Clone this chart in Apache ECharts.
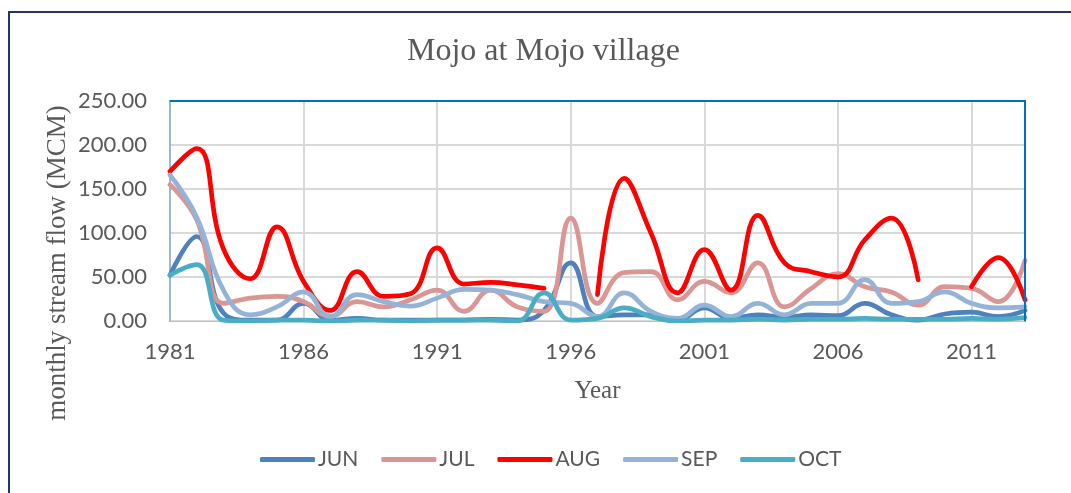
<!DOCTYPE html>
<html>
<head>
<meta charset="utf-8">
<script src="https://cdn.jsdelivr.net/npm/echarts@6/dist/echarts.min.js"></script>
<style>html,body{margin:0;padding:0;background:#fff;}#c{width:1071px;height:493px;}</style>
</head>
<body>
<div id="c"></div>
<script>
const years = [];
for (let y = 1981; y <= 2013; y++) years.push(String(y));
const yTicks = ['0.00','50.00','100.00','150.00','200.00','250.00'];
const JUN = [52,96,9,1,1,20,1,3,1,1,1,1,2,1,12,66,5,7,7,1,15,3,7,4,7,6,20,7,1,8,10,5,12];
const JUL = [155,115,20,26,28,22,5,22,16,24,35,11,35,16,11,117,20,55,56,24,45,32,66,16,37,54,39,33,18,39,37,22,69];
const AUG = [170,196,82,48,107,45,12,56,28,31,83,42,44,41,37,null,30,162,100,32,81,35,120,66,56,50,92,117,47,null,39,72,24];
const SEP = [166,118,35,7,16,33,5,30,22,17,26,36,35,30,22,20,5,32,11,3,18,5,20,7,20,20,47,20,22,33,20,15,16];
const OCT = [52,64,1,0,1,1,0,1,1,0,1,1,1,0,32,1,3,15,5,0,1,1,2,1,2,2,3,2,2,2,3,2,4];

const chart = echarts.init(document.getElementById('c'), null, {renderer:'canvas'});
const mk = (name, data, color) => ({
  name, type:'line', data, smooth:0.45, symbol:'none', connectNulls:false,
  lineStyle:{width:4.7, color, cap:'round'}, itemStyle:{color}
});
chart.setOption({
  animation:false,
  title:{text:'Mojo at Mojo village', left:402, top:31,
    textStyle:{fontFamily:'Liberation Serif', fontSize:32, fontWeight:'normal', color:'#595959'}},
  graphic:[
    {type:'rect', shape:{x:9,y:12,width:1100,height:520}, style:{fill:'none', stroke:'#1F3864', lineWidth:2}},
    {type:'polyline', z:100, shape:{points:[[170,101],[1025,101],[1025,321]]}, style:{fill:'none', stroke:'#0070C0', lineWidth:2}},
    {type:'text', x:58, y:263, rotation:Math.PI/2, z:100,
      style:{text:'monthly stream flow (MCM)', fontFamily:'Liberation Serif', fontSize:27, fill:'#595959',
        textAlign:'center', textVerticalAlign:'middle'}}
  ],
  legend:{bottom:18, left:255, itemWidth:55, itemHeight:5, itemGap:23, icon:'roundRect',
    textStyle:{fontFamily:'Lato', fontSize:21, color:'#595959', padding:[0,0,0,-2]},
    data:['JUN','JUL','AUG','SEP','OCT']},
  grid:{left:170, right:46, top:101, bottom:172, show:true, borderColor:'#0070C0', borderWidth:2},
  xAxis:{type:'category', data:years, boundaryGap:false,
    name:'Year', nameLocation:'middle', nameGap:58,
    nameTextStyle:{fontFamily:'Liberation Serif', fontSize:25, color:'#595959'},
    axisLine:{lineStyle:{color:'#BFBFBF', width:1}},
    axisTick:{show:false},
    axisLabel:{interval:4, margin:20, fontFamily:'Lato', fontSize:22, color:'#595959'},
    splitLine:{show:true, interval:4, lineStyle:{color:'#D9D9D9', width:2}}},
  yAxis:{type:'value', min:0, max:250, interval:50,
    axisLine:{show:true, lineStyle:{color:'#9DB5D9', width:2}},
    axisTick:{show:false},
    axisLabel:{margin:23, fontFamily:'Lato', fontSize:22, color:'#595959',
      formatter:(v)=>yTicks[Math.round(v/50)]},
    splitLine:{lineStyle:{color:'#D9D9D9', width:2}}},
  series:[mk('JUN',JUN,'#4F81BD'), mk('JUL',JUL,'#D99694'), mk('AUG',AUG,'#FF0000'), mk('SEP',SEP,'#95B3D7'), mk('OCT',OCT,'#4BACC6')]
});
</script>
</body>
</html>
